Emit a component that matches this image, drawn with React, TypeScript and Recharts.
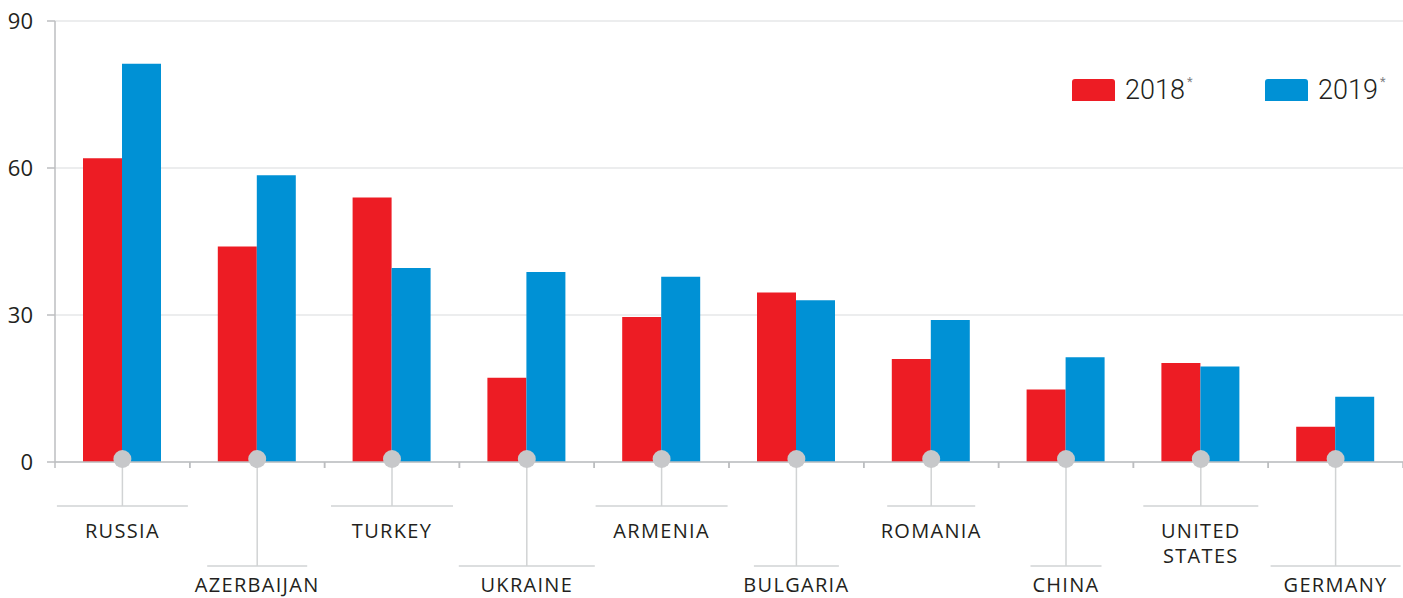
import { BarChart, Bar, XAxis, YAxis, CartesianGrid } from 'recharts';

const countries = ['RUSSIA', 'AZERBAIJAN', 'TURKEY', 'UKRAINE', 'ARMENIA', 'BULGARIA', 'ROMANIA', 'CHINA', 'UNITED STATES', 'GERMANY'];
const values2018 = [62, 44, 54, 17.2, 29.6, 34.6, 21, 14.8, 20.2, 7.2];
const values2019 = [81.3, 58.5, 39.6, 38.8, 37.8, 33, 29, 21.4, 19.5, 13.3];
const seriesNames = ['2018', '2019'];
const yTicks = [0, 30, 60, 90];

const RED = '#ed1c24';
const BLUE = '#0091d5';
const AXIS = '#bcbec0';
const LEADER = '#d1d3d4';

const WIDTH = 1403;
const HEIGHT = 598;
const PLOT_LEFT = 55;
const BAND = (WIDTH - PLOT_LEFT) / countries.length;

// width of the horizontal leader line under each label
const leaderWidths = [131, 100, 122, 136, 132, 85, 88, 71, 115, 130];

const data = countries.map((c, i) => ({
  country: c,
  y2018: values2018[i],
  y2019: values2019[i],
}));

const CountryTick = (props: any) => {
  const { x, y, payload, index } = props;
  const long = index % 2 === 1;
  const drop = long ? 104 : 44;
  const half = leaderWidths[index] / 2;
  const words: string[] = payload.value === 'UNITED STATES' ? ['UNITED', 'STATES'] : [payload.value];
  const baseY = long ? 130 : 76;
  return (
    <g>
      <line x1={x - BAND / 2} x2={x - BAND / 2} y1={y} y2={y + 6} stroke={AXIS} strokeWidth={1.5} />
      <line x1={x + BAND / 2} x2={x + BAND / 2} y1={y} y2={y + 6} stroke={AXIS} strokeWidth={1.5} />
      <line x1={x} x2={x} y1={y} y2={y + drop} stroke={LEADER} strokeWidth={1.5} />
      <line x1={x - half} x2={x + half} y1={y + drop} y2={y + drop} stroke={LEADER} strokeWidth={1.5} />
      <circle cx={x} cy={y - 3} r={9} fill="#c7c8ca" />
      {words.map((w, k) => (
        <text
          key={w}
          x={x}
          y={y + baseY + k * 25}
          textAnchor="middle"
          fill="#231f20"
          fontSize={20}
          letterSpacing={1.3}
          fontFamily="'Open Sans', sans-serif"
        >
          {w}
        </text>
      ))}
    </g>
  );
};

const LegendBox = () => (
  <div
    style={{
      position: 'absolute',
      left: 1072,
      top: 74,
      display: 'flex',
      fontFamily: 'Roboto, sans-serif',
      width: 400,
    }}
  >
    {seriesNames.map((name, i) => (
      <div key={name} style={{ display: 'flex', alignItems: 'center', width: 193, flexShrink: 0 }}>
        <div
          style={{
            width: 43,
            height: 22,
            background: i === 0 ? RED : BLUE,
            borderRadius: '3px 3px 0 0',
            marginRight: 10,
          }}
        />
        <span style={{ fontSize: 27, fontWeight: 300, color: '#231f20' }}>{name}</span>
        <span style={{ fontSize: 13, color: '#808285', alignSelf: 'flex-start', marginLeft: 2 }}>*</span>
      </div>
    ))}
  </div>
);

export default function App() {
  return (
    <div style={{ position: 'absolute', left: 0, top: 0, width: WIDTH, height: HEIGHT, background: '#fff' }}>
      <BarChart
        width={WIDTH}
        height={HEIGHT}
        data={data}
        margin={{ top: 21, right: 0, left: 0, bottom: 0 }}
        barGap={0}
        barSize={39}
      >
        <CartesianGrid vertical={false} stroke="#e6e7e8" strokeWidth={1.5} />
        <YAxis
          width={PLOT_LEFT}
          domain={[0, 90]}
          ticks={yTicks}
          axisLine={{ stroke: AXIS, strokeWidth: 1.5 }}
          tickLine={{ stroke: AXIS, strokeWidth: 1.5 }}
          tickSize={8}
          tickMargin={14}
          tick={{ fill: '#231f20', fontSize: 22, fontFamily: "'Open Sans', sans-serif" }}
        />
        <Bar dataKey="y2018" name="2018" fill={RED} isAnimationActive={false} />
        <Bar dataKey="y2019" name="2019" fill={BLUE} isAnimationActive={false} />
        <XAxis
          dataKey="country"
          height={136}
          interval={0}
          tickLine={false}
          tickSize={0}
          tickMargin={0}
          axisLine={{ stroke: AXIS, strokeWidth: 1.5 }}
          tick={<CountryTick />}
        />
      </BarChart>
      <LegendBox />
    </div>
  );
}
